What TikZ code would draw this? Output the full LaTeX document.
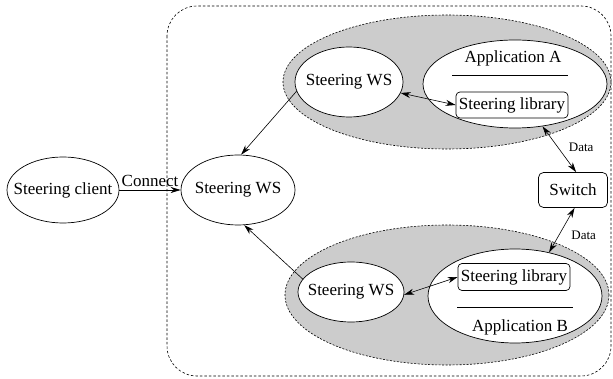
\documentclass[tikz,border=0pt]{standalone}
\usepackage{fontspec}
\setmainfont{Liberation Serif}
\usetikzlibrary{shapes.geometric,arrows.meta}

\begin{document}
\begin{tikzpicture}[x=1pt,y=-1pt,
	font=\fontsize{17}{20}\selectfont,
	oval/.style={draw, ellipse, fill=white, inner xsep=-40pt, inner ysep=-12pt, line width=0.7pt},
	zone/.style={draw, ellipse, fill=black!20, dash pattern=on 2pt off 1.5pt, line width=0.6pt},
	libbox/.style={draw, rounded corners=4pt, fill=white, minimum width=112pt,
		minimum height=26pt, inner sep=0pt, line width=0.7pt},
	link/.style={-{Stealth[length=10pt,width=6pt]}, line width=0.6pt},
	both/.style={{Stealth[length=10pt,width=6pt]}-{Stealth[length=10pt,width=6pt]}, line width=0.6pt},
	datalabel/.style={font=\fontsize{13}{15}\selectfont}]

	\useasboundingbox (0,0) rectangle (613,379);

	% frame
	\draw[dash pattern=on 2.5pt off 2pt, rounded corners=30pt, line width=0.6pt]
		(167,6) rectangle (611,376);

	% zones
	\node[zone, minimum width=328pt, minimum height=134pt] (zoneA) at (447,82) {};
	\node[zone, minimum width=324pt, minimum height=140pt] (zoneB) at (447,295) {};

	% nodes
	\node[oval, minimum width=112pt, minimum height=66pt] (client) at (63,190) {Steering client};
	\node[oval, minimum width=114pt, minimum height=70pt] (ws) at (238,190) {Steering WS};

	\node[oval, minimum width=108pt, minimum height=70pt] (wsA) at (349,82) {Steering WS};
	\node[oval, minimum width=184pt, minimum height=88pt] (appA) at (515,84) {};
	\node (nameA) at (513,58) {Application A};
	\draw[line width=0.6pt] (452,75) -- (568,75);
	\node[libbox] (libA) at (512,105) {Steering library};

	\node[oval, minimum width=106pt, minimum height=60pt] (wsB) at (351,292) {Steering WS};
	\node[oval, minimum width=174pt, minimum height=94pt] (appB) at (515,296) {};
	\node[libbox, minimum height=27pt] (libB) at (514,277) {Steering library};
	\draw[line width=0.6pt] (457,307) -- (573,307);
	\node (nameB) at (520,327) {Application B};

	\node[draw, rounded corners=5pt, fill=white, minimum width=69pt, minimum height=35pt,
		inner sep=0pt, line width=0.7pt] (switch) at (573,190) {Switch};

	% connectors
	\draw[link] (client) -- node[above] {Connect} (ws);
	\draw[link] (wsA.190) -- (ws.85);
	\draw[link] (wsB.165) -- (ws.-80);
	\draw[both] (wsA.-12) -- (libA.west);
	\draw[both] (wsB.-3) -- (libB.west);
	\draw[both] (appA.-57) -- node[datalabel, midway, right=6pt, yshift=2pt] {Data} (switch.80);
	\draw[both] (switch.-85) -- node[datalabel, midway, right=6pt, yshift=-5pt] {Data} (appB.52);

\end{tikzpicture}
\end{document}
